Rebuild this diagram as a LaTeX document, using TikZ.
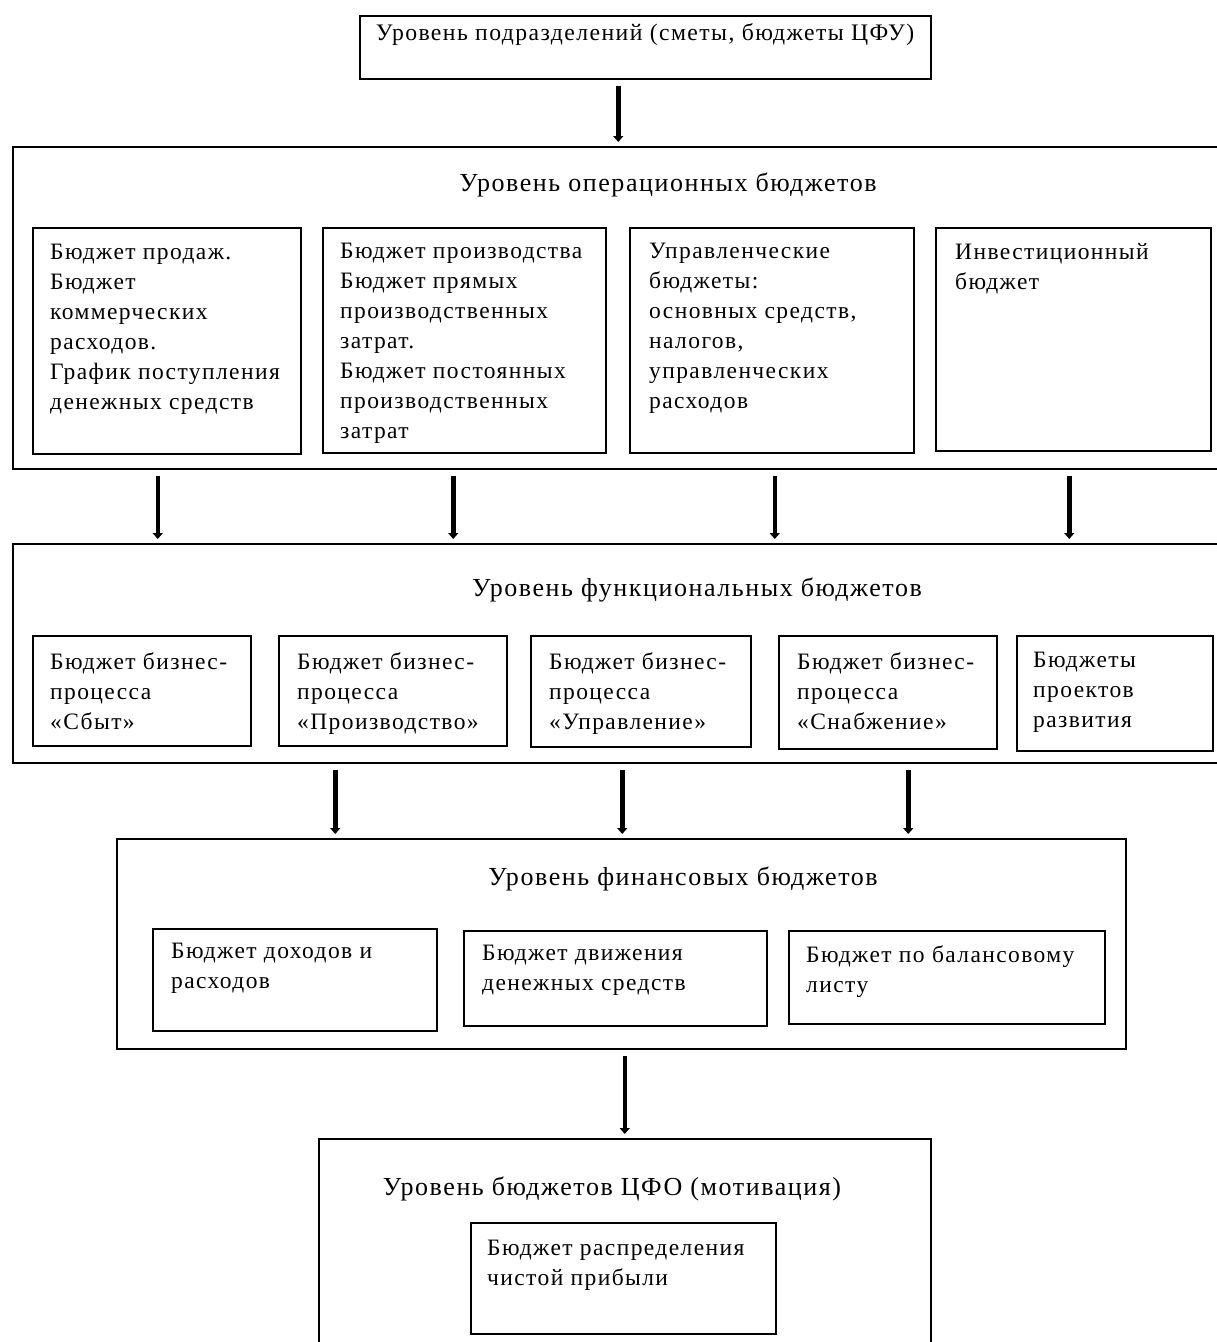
\documentclass[tikz,border=0pt]{standalone}
\usepackage{fontspec}
\setmainfont{Liberation Serif}[LetterSpace=6]
\usetikzlibrary{arrows.meta}

\tikzset{
  level/.style={draw, line width=1.5pt, anchor=north west, inner sep=0pt},
  cell/.style={draw, line width=1.5pt, anchor=north west, inner sep=0pt},
  headline/.style={anchor=base, inner sep=0pt, font=\fontsize{26pt}{30pt}\selectfont},
  celltext/.style={anchor=north west, inner sep=0pt, align=left,
    font=\fontsize{23.5pt}{30pt}\selectfont},
  down/.style={line width=4.5pt, -{Triangle[length=6pt,width=10pt]},
    shorten <=6pt, shorten >=4pt}
}

\begin{document}
\begin{tikzpicture}[x=1pt,y=-1pt]
  \useasboundingbox (0,0) rectangle (1217,1342);
  \clip (0,0) rectangle (1217,1342);

  % level of departments
  \node[level, minimum width=571pt, minimum height=63pt] (dept) at (359,15) {};
  \node[anchor=base, inner sep=0pt, font=\fontsize{23.7pt}{30pt}\selectfont] (dept-t) at (645,40)
    {Уровень подразделений (сметы, бюджеты ЦФУ)};

  % operational budgets
  \node[level, minimum width=1230pt, minimum height=322pt] (ops) at (12,146) {};
  \node[headline] (ops-t) at (668,191) {Уровень операционных бюджетов};

  \node[cell, minimum width=268pt, minimum height=226pt] (sales) at (32,227) {};
  \node[celltext] (sales-t) at ([xshift=18pt,yshift=-17pt]sales.north west)
    {Бюджет продаж.\\Бюджет\\коммерческих\\расходов.\\График поступления\\денежных средств};

  \node[cell, minimum width=283pt, minimum height=225pt] (prod) at (322,227) {};
  \node[celltext] (prod-t) at ([xshift=18pt,yshift=-16pt]prod.north west)
    {Бюджет производства\\Бюджет прямых\\производственных\\затрат.\\Бюджет постоянных\\производственных\\затрат};

  \node[cell, minimum width=284pt, minimum height=225pt] (mgmt) at (629,227) {};
  \node[celltext] (mgmt-t) at ([xshift=20pt,yshift=-16pt]mgmt.north west)
    {Управленческие\\бюджеты:\\основных средств,\\налогов,\\управленческих\\расходов};

  \node[cell, minimum width=275pt, minimum height=223pt] (inv) at (935,227) {};
  \node[celltext] (inv-t) at ([xshift=20pt,yshift=-16pt]inv.north west)
    {Инвестиционный\\бюджет};

  % functional budgets
  \node[level, minimum width=1230pt, minimum height=219pt] (fns) at (12,543) {};
  \node[headline] (fns-t) at (697,596) {Уровень функциональных бюджетов};

  \node[cell, minimum width=218pt, minimum height=110pt] (sbyt) at (32,635) {};
  \node[celltext] (sbyt-t) at ([xshift=18pt,yshift=-17pt]sbyt.north west)
    {Бюджет бизнес-\\процесса\\«Сбыт»};

  \node[cell, minimum width=228pt, minimum height=110pt] (proizv) at (278,635) {};
  \node[celltext] (proizv-t) at ([xshift=19pt,yshift=-17pt]proizv.north west)
    {Бюджет бизнес-\\процесса\\«Производство»};

  \node[cell, minimum width=220pt, minimum height=111pt] (upr) at (530,635) {};
  \node[celltext] (upr-t) at ([xshift=19pt,yshift=-17pt]upr.north west)
    {Бюджет бизнес-\\процесса\\«Управление»};

  \node[cell, minimum width=218pt, minimum height=113pt] (snab) at (778,635) {};
  \node[celltext] (snab-t) at ([xshift=19pt,yshift=-17pt]snab.north west)
    {Бюджет бизнес-\\процесса\\«Снабжение»};

  \node[cell, minimum width=196pt, minimum height=115pt] (razv) at (1016,635) {};
  \node[celltext] (razv-t) at ([xshift=17pt,yshift=-17pt]razv.north west)
    {Бюджеты\\проектов\\развития};

  % financial budgets
  \node[level, minimum width=1009pt, minimum height=210pt] (fin) at (116,838) {};
  \node[headline] (fin-t) at (683,885) {Уровень финансовых бюджетов};

  \node[cell, minimum width=284pt, minimum height=102pt] (bdr) at (152,928) {};
  \node[celltext] (bdr-t) at ([xshift=19pt,yshift=-15pt]bdr.north west)
    {Бюджет доходов и\\расходов};

  \node[cell, minimum width=303pt, minimum height=95pt] (bdds) at (463,930) {};
  \node[celltext] (bdds-t) at ([xshift=19pt,yshift=-15pt]bdds.north west)
    {Бюджет движения\\денежных средств};

  \node[cell, minimum width=316pt, minimum height=93pt] (bbl) at (788,930) {};
  \node[celltext] (bbl-t) at ([xshift=18pt,yshift=-15pt]bbl.north west)
    {Бюджет по балансовому\\листу};

  % CFO budgets
  \node[level, minimum width=612pt, minimum height=222pt] (cfo) at (318,1138) {};
  \node[headline] (cfo-t) at (612,1195) {Уровень бюджетов ЦФО (мотивация)};

  \node[cell, minimum width=305pt, minimum height=111pt] (profit) at (470,1222) {};
  \node[celltext] (profit-t) at ([xshift=17pt,yshift=-18pt]profit.north west)
    {Бюджет распределения\\чистой прибыли};

  % arrows between levels
  \draw[down] ([xshift=-27pt]dept.south) -- ([xshift=-27pt]dept.south |- ops.north);

  \draw[down] ([xshift=-9pt]sales.south |- ops.south) -- ([xshift=-9pt]sales.south |- fns.north);
  \draw[down] ([xshift=-11pt]prod.south |- ops.south) -- ([xshift=-11pt]prod.south |- fns.north);
  \draw[down] ([xshift=3pt]mgmt.south |- ops.south) -- ([xshift=3pt]mgmt.south |- fns.north);
  \draw[down] ([xshift=-4pt]inv.south |- ops.south) -- ([xshift=-4pt]inv.south |- fns.north);

  \draw[down] ([xshift=-286pt]fin.north |- fns.south) -- ([xshift=-286pt]fin.north);
  \draw[down] ([xshift=1pt]fin.north |- fns.south) -- ([xshift=1pt]fin.north);
  \draw[down] ([xshift=287pt]fin.north |- fns.south) -- ([xshift=287pt]fin.north);

  \draw[down] (cfo.north |- fin.south) -- (cfo.north);
\end{tikzpicture}
\end{document}
